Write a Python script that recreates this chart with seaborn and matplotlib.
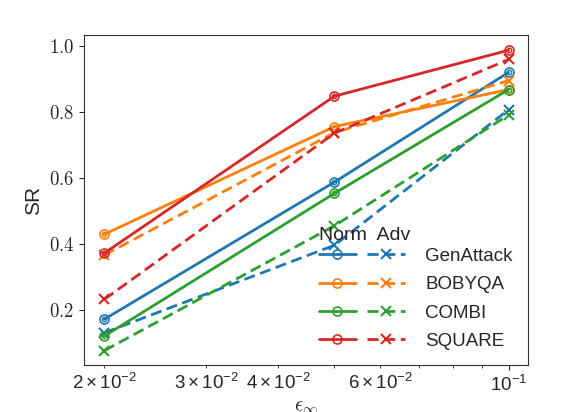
import numpy as np
import pandas as pd
import matplotlib
matplotlib.use("Agg")
import matplotlib.pyplot as plt
import seaborn as sns
from matplotlib.legend_handler import HandlerTuple
from matplotlib.ticker import FuncFormatter

# data
eps = [0.02, 0.05, 0.1]
methods = ["GenAttack", "BOBYQA", "COMBI", "SQUARE"]
sr_norm = {
    "GenAttack": [0.172, 0.587, 0.919],
    "BOBYQA": [0.429, 0.755, 0.867],
    "COMBI": [0.121, 0.553, 0.867],
    "SQUARE": [0.372, 0.847, 0.986],
}
sr_adv = {
    "GenAttack": [0.131, 0.396, 0.806],
    "BOBYQA": [0.366, 0.737, 0.894],
    "COMBI": [0.077, 0.455, 0.790],
    "SQUARE": [0.232, 0.735, 0.958],
}
colors = ["#1f77b4", "#ff7f0e", "#2ca02c", "#d62728"]

sns.set_style("ticks")
plt.rcParams["font.family"] = ["Liberation Sans", "DejaVu Sans"]
plt.rcParams["mathtext.fontset"] = "cm"

fig, ax = plt.subplots(figsize=(5.64, 4.12), dpi=100)

handles = []
for m, c in zip(methods, colors):
    dn = pd.DataFrame({"eps": eps, "sr": sr_norm[m]})
    da = pd.DataFrame({"eps": eps, "sr": sr_adv[m]})
    sns.lineplot(data=dn, x="eps", y="sr", ax=ax, color=c, lw=2, legend=False,
                 marker="o", markersize=6.5, markerfacecolor="none",
                 markeredgecolor=c, markeredgewidth=1.2)
    hn = ax.lines[-1]
    # inner ring of the double-circle marker
    ax.plot(dn["eps"], dn["sr"], ls="none", marker="o", ms=3.2, mfc="none", mec=c, mew=1.0)
    sns.lineplot(data=da, x="eps", y="sr", ax=ax, color=c, lw=2, legend=False,
                 marker="x", markersize=6.5, markeredgecolor=c, markeredgewidth=1.5)
    ha = ax.lines[-1]
    ha.set_linestyle((0, (4, 2)))
    handles.append((hn, ha))

ax.set_xscale("log")
ax.set_xlim(0.01845, 0.108)
ax.set_ylim(0.0335, 1.032)
ax.yaxis.set_major_formatter(FuncFormatter(lambda v, p: f"${v:.1f}$"))
ax.tick_params(which="both", labelsize=13.5)
ax.set_xlabel(r"$\epsilon_\infty$", fontsize=15, labelpad=2)
ax.set_ylabel("SR", fontsize=15)
for s in ax.spines.values():
    s.set_color("#333333")

leg = ax.legend(handles, methods, handler_map={tuple: HandlerTuple(ndivide=None, pad=0.6)},
                handlelength=4.6, fontsize=13.5, frameon=False, loc="lower right",
                title="Norm  Adv", title_fontsize=14, alignment="left",
                labelspacing=0.6, handletextpad=1.1, borderaxespad=0.4)
leg._legend_box.sep = 3

fig.subplots_adjust(left=0.149, right=0.936, top=0.915, bottom=0.114)
fig.savefig("out.png", dpi=100)
